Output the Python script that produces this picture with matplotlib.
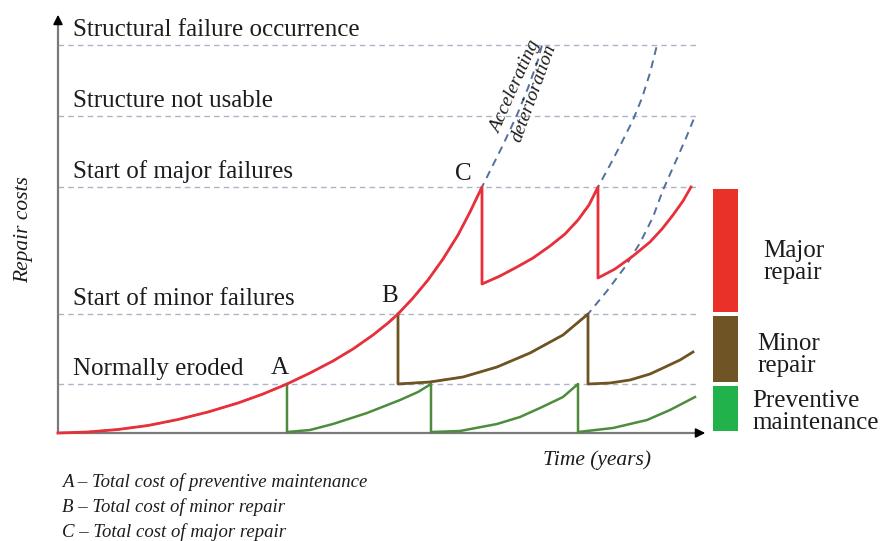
import matplotlib
matplotlib.use("Agg")
import matplotlib.pyplot as plt

# Threshold levels of deterioration (repair-cost units)
levels = [4.9, 11.9, 24.6, 31.7, 38.8]
level_labels = ["Normally eroded", "Start of minor failures", "Start of major failures",
                "Structure not usable", "Structural failure occurrence"]

# Major-repair path (red): deterioration to C, then repair and renewed growth
red_t = [0, 3, 6, 9, 12, 15, 18, 20.5, 22.9, 25.2, 27.5, 29.5, 31.5, 33.0, 34.0,
         35.5, 37.0, 38.5, 40.0, 41.2, 42.4,
         42.4, 44.2, 45.9, 47.5, 49.2, 50.7, 52.0, 53.1, 54.0,
         54.0, 55.7, 57.5, 59.2, 60.4, 61.5, 62.5, 63.3]
red_c = [0, 0.1, 0.35, 0.75, 1.35, 2.1, 3.0, 3.9, 4.9, 6.0, 7.2, 8.4, 9.8, 11.0, 11.9,
         13.5, 15.3, 17.4, 19.8, 22.1, 24.6,
         14.9, 15.7, 16.6, 17.5, 18.7, 19.9, 21.3, 22.8, 24.6,
         15.5, 16.4, 17.7, 19.1, 20.4, 21.8, 23.2, 24.6]

# Minor-repair path (brown), starting at B
brown_t = [34.0, 34.0, 37.2, 40.5, 43.9, 47.2, 50.5, 53.0,
           53.0, 55.2, 57.2, 59.2, 60.5, 62.2, 63.5]
brown_c = [11.9, 4.9, 5.1, 5.6, 6.6, 8.0, 9.8, 11.9,
           4.9, 5.0, 5.3, 5.9, 6.5, 7.3, 8.1]

# Preventive-maintenance path (green), starting at A
green_t = [22.9, 22.9, 25.2, 27.5, 30.9, 34.2, 36.0, 37.3,
           37.3, 40.2, 43.9, 46.2, 48.2, 50.5, 52.0,
           52.0, 55.5, 58.9, 61.2, 63.7]
green_c = [4.9, 0.1, 0.3, 0.9, 2.0, 3.3, 4.1, 4.9,
           0.1, 0.2, 0.9, 1.6, 2.5, 3.6, 4.9,
           0.1, 0.5, 1.3, 2.3, 3.6]

# Unrepaired (accelerating) deterioration paths, dashed
det1_t = [0, 3, 6, 9, 12, 15, 18, 20.5, 22.9, 25.2, 27.5, 29.5, 31.5, 33.0, 34.0,
          35.5, 37.0, 38.5, 40.0, 41.2, 42.4, 44.4, 45.9, 47.0, 48.0, 48.4]
det1_c = [0, 0.1, 0.35, 0.75, 1.35, 2.1, 3.0, 3.9, 4.9, 6.0, 7.2, 8.4, 9.8, 11.0, 11.9,
          13.5, 15.3, 17.4, 19.8, 22.1, 24.6, 28.6, 31.8, 34.5, 37.3, 38.8]
det2_t = [42.4, 44.2, 45.9, 47.5, 49.2, 50.7, 52.0, 53.1, 54.0, 55.2, 56.4, 57.5,
          58.4, 59.2, 59.9]
det2_c = [14.9, 15.7, 16.6, 17.5, 18.7, 19.9, 21.3, 22.8, 24.6, 26.8, 29.1, 31.3,
          33.5, 36.0, 38.8]
det3_t = [34.0, 37.2, 40.5, 43.9, 47.2, 50.5, 53.0, 54.9, 56.7, 58.2, 59.5, 60.5,
          61.7, 62.8, 63.7]
det3_c = [4.9, 5.1, 5.6, 6.6, 8.0, 9.8, 11.9, 14.2, 16.6, 19.0, 21.6, 24.3,
          27.0, 29.5, 31.7]

# Points marking total cost of each strategy
point_names = ["A", "B", "C"]
point_t = [22.9, 34.0, 42.4]
point_c = [4.9, 11.9, 24.6]

legend_labels = ["Preventive\nmaintenance", "Minor\nrepair", "Major\nrepair"]
footnotes = ["A – Total cost of preventive maintenance",
             "B – Total cost of minor repair",
             "C – Total cost of major repair"]

SERIF = ["Liberation Serif", "DejaVu Serif"]
TXT = "#1c1c1c"
RED, BROWN, GREEN = "#e8303a", "#6e5422", "#4c8c3c"
BOX_COLORS = ["#22b24c", "#6f5426", "#ea3129"]
DASH_BLUE = "#50709e"
GRID = "#a9b5c8"

fig = plt.figure(figsize=(8.84, 5.41), dpi=100)
ax = fig.add_axes([58 / 884, 108 / 541, 650 / 884, 421 / 541])
ax.set_xlim(0, 65)
ax.set_ylim(0, 42.1)
ax.axis("off")

# axes with arrow heads
ax.plot([0, 0], [0, 41.0], color="#7a7a7a", lw=1.6, clip_on=False, zorder=2)
ax.plot([0, 64.0], [0, 0], color="#7a7a7a", lw=1.6, clip_on=False, zorder=2)
ax.annotate("", xy=(0, 42.1), xytext=(0, 40.6),
            arrowprops=dict(arrowstyle="-|>", color="black", lw=1.2, mutation_scale=14),
            annotation_clip=False)
ax.annotate("", xy=(65.0, 0), xytext=(63.6, 0),
            arrowprops=dict(arrowstyle="-|>", color="black", lw=1.2, mutation_scale=14),
            annotation_clip=False)

# threshold lines and their labels
for lv, lab in zip(levels, level_labels):
    ax.plot([0, 63.9], [lv, lv], color=GRID, lw=1.0, dashes=(4, 3), zorder=1, clip_on=False)
    ax.text(1.5, lv + 1.5, lab, family=SERIF, fontsize=18, color=TXT, va="center", ha="left")

# accelerating deterioration (dashed)
for tt, cc in [(det1_t, det1_c), (det2_t, det2_c), (det3_t, det3_c)]:
    ax.plot(tt, cc, color=DASH_BLUE, lw=1.4, dashes=(4, 3), zorder=3, clip_on=False)

# repair paths
ax.plot(green_t, green_c, color=GREEN, lw=1.8, zorder=4, clip_on=False)
ax.plot(brown_t, brown_c, color=BROWN, lw=2.0, zorder=5, clip_on=False)
ax.plot(red_t, red_c, color=RED, lw=2.0, zorder=6, clip_on=False)

# A, B, C markers
offsets = [(-0.7, 1.6), (-0.8, 1.8), (-1.9, 1.3)]
for name, t, c, (dx, dy) in zip(point_names, point_t, point_c, offsets):
    ax.text(t + dx, c + dy, name, family=SERIF, fontsize=18, color=TXT, ha="center", va="center")

ax.text(45.8, 34.6, "Accelerating", family=SERIF, style="italic", fontsize=14,
        color=TXT, rotation=66, ha="center", va="center")
ax.text(47.6, 34.0, "deterioration", family=SERIF, style="italic", fontsize=14,
        color=TXT, rotation=70, ha="center", va="center")

# color key bars spanning each cost band
band_lo = [0.0] + levels[:2]
band_hi = levels[:3]
gap = 0.17
for lo, hi, col in zip(band_lo, band_hi, BOX_COLORS):
    ax.bar(66.75, (hi - lo) - 2 * gap, bottom=lo + gap, width=2.5, color=col,
           clip_on=False, zorder=2)

key_pos = [(69.4, 2.1), (69.9, 7.8), (70.5, 17.1)]
for lab, (t, c) in zip(legend_labels, key_pos):
    ax.text(t, c, lab, family=SERIF, fontsize=18, color=TXT, ha="left", va="center",
            linespacing=1.0)

# axis titles
ax.text(53.9, -2.7, "Time (years)", family=SERIF, style="italic", fontsize=15.5,
        color=TXT, ha="center", va="center")
ax.text(-3.4, 20.3, "Repair costs", family=SERIF, style="italic", fontsize=15.5,
        color=TXT, ha="center", va="center", rotation=90)

# footnotes
for i, note in enumerate(footnotes):
    ax.text(0.4, -4.9 - 2.5 * i, note, family=SERIF, style="italic", fontsize=13.5,
            color=TXT, ha="left", va="center")

fig.savefig("out.png", dpi=100)
